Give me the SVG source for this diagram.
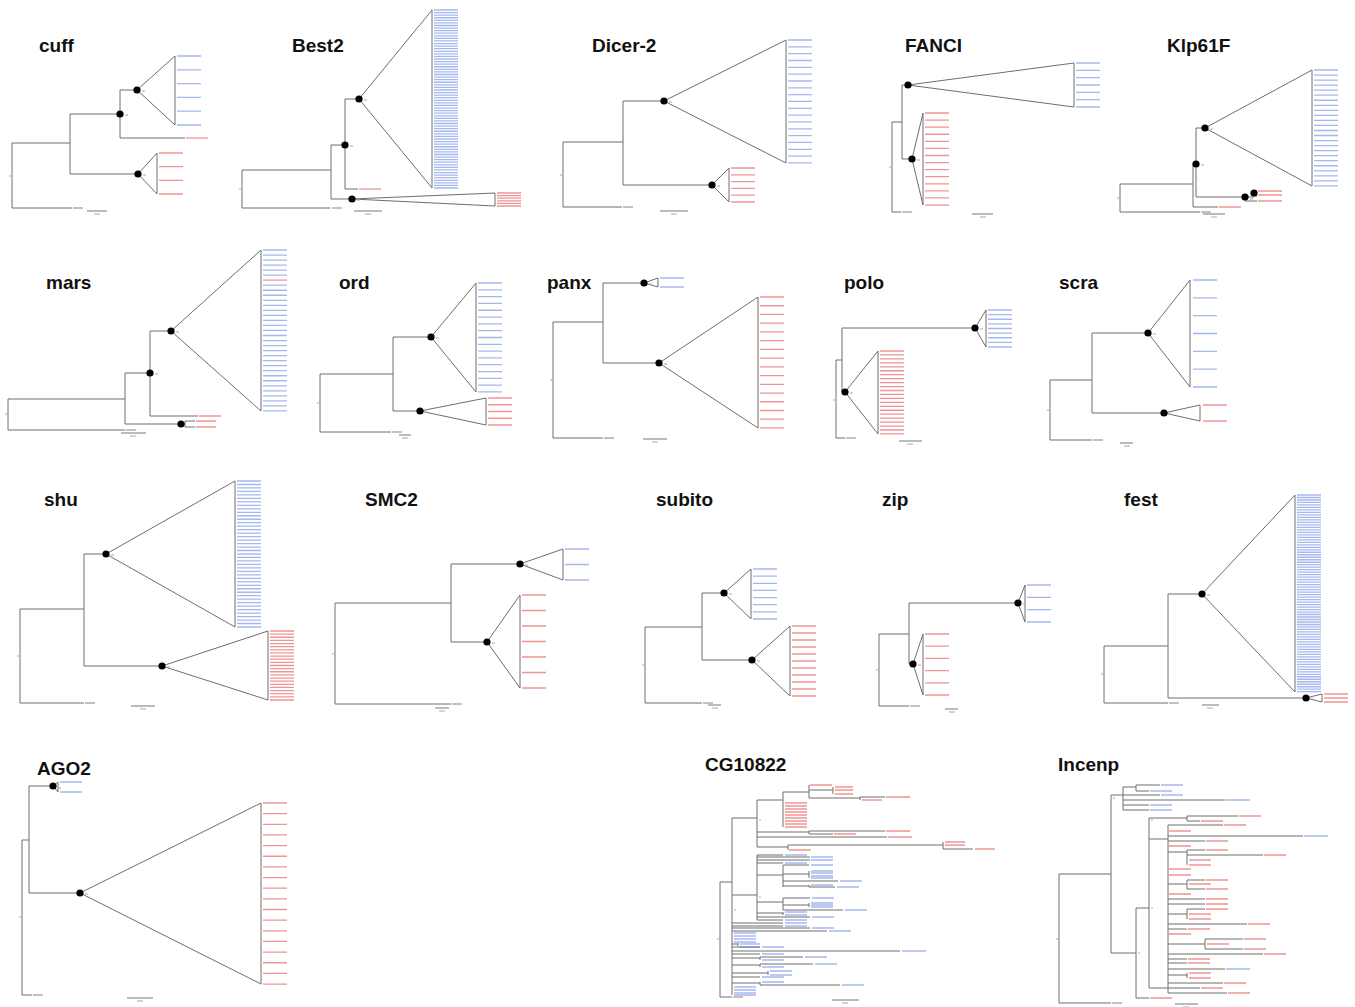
<svg xmlns="http://www.w3.org/2000/svg" width="1355" height="1007" viewBox="0 0 1355 1007">
<style>
.t{font-family:"Liberation Sans",Arial,sans-serif;font-weight:bold;font-size:19px;fill:#111}
.br{fill:none;stroke:#6e6e6e;stroke-width:1}
.nd{fill:#000}
.lb{fill:none;stroke:#4b6fe0;stroke-opacity:.5}
.lr{fill:none;stroke:#e02a2a;stroke-opacity:.5}
.s{stroke-width:1.3}
.lg{fill:none;stroke:#999;stroke-width:1.2}
.sc{fill:none;stroke:#777;stroke-width:1}
.bs{fill:none;stroke:#aaa;stroke-width:1}
</style>
<rect width="1355" height="1007" fill="#fff"/>

<g id="cuff">
<text class="t" x="39" y="52">cuff</text>
<path class="br" d="M12,143V208M12,143H70M12,208H72M70,114V174M70,114H120M70,174H138M120,90V138M120,90H137M120,138H185"/>
<polygon class="br" points="137,90 175,56 175,125"/>
<polygon class="br" points="138,174 157,153 157,194"/>
<circle class="nd" cx="120" cy="114" r="3.6"/><circle class="nd" cx="137" cy="90" r="3.6"/><circle class="nd" cx="138" cy="174" r="3.6"/>
<path class="lb" stroke-width="24" stroke-dasharray="1.3 12.5" d="M189,55.35V125.65"/>
<path class="lr" stroke-width="24" stroke-dasharray="1.3 12.37" d="M171,152.35V194.65"/>
<path class="lr s" d="M186,138h22"/>
<path class="lg" d="M73,208h10"/>
<path class="bs" d="M125,115h3M142,91h3M143,175h3M9,176h2M94,214h6"/>
<path class="sc" d="M87,211H107"/>
</g>

<g id="Best2">
<text class="t" x="292" y="52">Best2</text>
<path class="br" d="M242,170V208M242,170H331M242,208H330M331,145V199M331,145H345M345,99V189M345,99H359M345,189H358M331,199H352"/>
<polygon class="br" points="359,99 432,10 432,188"/>
<polygon class="br" points="352,199 495,193 495,206"/>
<circle class="nd" cx="345" cy="145" r="3.6"/><circle class="nd" cx="359" cy="99" r="3.6"/><circle class="nd" cx="352" cy="199" r="3.6"/>
<path class="lb" stroke-width="24" stroke-dasharray="1.3 1.28" d="M446,9.35V188.65"/>
<path class="lr" stroke-width="24" stroke-dasharray="1.3 1.3" d="M509,192.35V206.65"/>
<path class="lr s" d="M359,189h22"/>
<path class="lg" d="M332,208h10"/>
<path class="bs" d="M350,146h3M364,100h3M357,200h3M239,189h2M365,214h6"/>
<path class="sc" d="M354,211H382"/>
</g>

<g id="Dicer-2">
<text class="t" x="592" y="52">Dicer-2</text>
<path class="br" d="M563,142V207M563,142H623M563,207H622M623,101V185M623,101H664M623,185H712"/>
<polygon class="br" points="664,101 786,40 786,163"/>
<polygon class="br" points="712,185 729,168 729,202"/>
<circle class="nd" cx="664" cy="101" r="3.6"/><circle class="nd" cx="712" cy="185" r="3.6"/>
<path class="lb" stroke-width="24" stroke-dasharray="1.3 5.53" d="M800,39.35V163.65"/>
<path class="lr" stroke-width="24" stroke-dasharray="1.3 5.5" d="M743,167.35V202.65"/>
<path class="lg" d="M623,207h10"/>
<path class="bs" d="M669,102h3M717,186h3M560,175h2M671,214h6"/>
<path class="sc" d="M660,211H688"/>
</g>

<g id="FANCI">
<text class="t" x="905" y="52">FANCI</text>
<path class="br" d="M892,122V212M892,122H902M892,212H901M902,85V159M902,85H908M902,159H912"/>
<polygon class="br" points="908,85 1074,63 1074,107"/>
<polygon class="br" points="912,159 923,113 923,205"/>
<circle class="nd" cx="908" cy="85" r="3.6"/><circle class="nd" cx="912" cy="159" r="3.6"/>
<path class="lb" stroke-width="24" stroke-dasharray="1.3 6.03" d="M1088,62.35V107.65"/>
<path class="lr" stroke-width="24" stroke-dasharray="1.3 5.78" d="M937,112.35V205.65"/>
<path class="lg" d="M902,212h10"/>
<path class="bs" d="M917,160h3M889,167h2M980,217h6"/>
<path class="sc" d="M972,214H993"/>
</g>

<g id="Klp61F">
<text class="t" x="1167" y="52">Klp61F</text>
<path class="br" d="M1120,184V212M1120,184H1193M1120,212H1200M1193,164V207M1193,164H1196M1193,207H1218M1196,128V197M1196,128H1205M1196,197H1245M1245,197V201M1245,201H1257M1245,197H1254M1254,191V196M1254,191H1257M1254,196H1257"/>
<polygon class="br" points="1205,128 1312,70 1312,186"/>
<circle class="nd" cx="1196" cy="164" r="3.6"/><circle class="nd" cx="1205" cy="128" r="3.6"/><circle class="nd" cx="1245" cy="197" r="3.6"/><circle class="nd" cx="1254" cy="193" r="3.6"/>
<path class="lb" stroke-width="24" stroke-dasharray="1.3 3.74" d="M1326,69.35V186.65"/>
<path class="lr s" d="M1258,191h24M1258,195h24M1258,201h24M1219,207h22"/>
<path class="lg" d="M1201,212h10"/>
<path class="bs" d="M1201,165h3M1210,129h3M1250,199h3M1117,198h2M1211,217h6"/>
<path class="sc" d="M1203,214H1225"/>
</g>

<g id="mars">
<text class="t" x="46" y="289">mars</text>
<path class="br" d="M8,399V430M8,399H125M8,430H125M125,373V424M125,373H150M125,424H181M150,331V416M150,331H171M150,416H198M181,424H185M185,421V427M185,421H195M185,427H195"/>
<polygon class="br" points="171,331 261,250 261,411"/>
<circle class="nd" cx="150" cy="373" r="3.6"/><circle class="nd" cx="171" cy="331" r="3.6"/><circle class="nd" cx="181" cy="424" r="3.6"/>
<path class="lb" stroke-width="24" stroke-dasharray="1.3 3.73" d="M275,249.35V275.85M275,284.55V411.65"/>
<path class="lr s" d="M263,280.2h24M199,416h22M196,421h20M196,427h20"/>
<path class="lg" d="M126,430h10"/>
<path class="bs" d="M155,374h3M176,332h3M5,414h2M130,436h6"/>
<path class="sc" d="M121,433H146"/>
</g>

<g id="ord">
<text class="t" x="339" y="289">ord</text>
<path class="br" d="M320,374V432M320,374H393M320,432H391M393,337V411M393,337H431M393,411H420"/>
<polygon class="br" points="431,337 476,283 476,392"/>
<polygon class="br" points="420,411 486,398 486,425"/>
<circle class="nd" cx="431" cy="337" r="3.6"/><circle class="nd" cx="420" cy="411" r="3.6"/>
<path class="lb" stroke-width="24" stroke-dasharray="1.3 5.51" d="M490,282.35V392.65"/>
<path class="lr" stroke-width="24" stroke-dasharray="1.3 5.45" d="M500,397.35V425.65"/>
<path class="lg" d="M392,432h10"/>
<path class="bs" d="M436,338h3M425,412h3M317,403h2M402,438h6"/>
<path class="sc" d="M399,435H411"/>
</g>

<g id="panx">
<text class="t" x="547" y="289">panx</text>
<path class="br" d="M553,322V438M553,322H603M553,438H603M603,283V363M603,283H644M603,363H659"/>
<polygon class="br" points="644,283 658,278 658,287"/>
<polygon class="br" points="659,363 758,297 758,428"/>
<circle class="nd" cx="644" cy="283" r="3.6"/><circle class="nd" cx="659" cy="363" r="3.6"/>
<path class="lb s" d="M660,278h24M660,287h24"/>
<path class="lr" stroke-width="24" stroke-dasharray="1.3 7.43" d="M772,296.35V428.65"/>
<path class="lg" d="M604,438h10"/>
<path class="bs" d="M649,284h3M664,364h3M550,380h2M652,442h6"/>
<path class="sc" d="M643,439H667"/>
</g>

<g id="polo">
<text class="t" x="844" y="289">polo</text>
<path class="br" d="M836,360V438M836,360H842M836,438H845M842,328V392M842,328H975M842,392H845"/>
<polygon class="br" points="975,328 986,310 986,347"/>
<polygon class="br" points="845,392 878,351 878,434"/>
<circle class="nd" cx="975" cy="328" r="3.6"/><circle class="nd" cx="845" cy="392" r="3.6"/>
<path class="lb" stroke-width="24" stroke-dasharray="1.3 3.325" d="M1000,309.35V347.65"/>
<path class="lr" stroke-width="24" stroke-dasharray="1.3 2.65" d="M892,350.35V434.65"/>
<path class="lg" d="M846,438h10"/>
<path class="bs" d="M980,329h3M850,393h3M833,400h2M907,444h6"/>
<path class="sc" d="M899,441H922"/>
</g>

<g id="scra">
<text class="t" x="1059" y="289">scra</text>
<path class="br" d="M1050,380V440M1050,380H1092M1050,440H1092M1092,333V413M1092,333H1148M1092,413H1164"/>
<polygon class="br" points="1148,333 1190,280 1190,387"/>
<polygon class="br" points="1164,413 1200,405 1200,421"/>
<circle class="nd" cx="1148" cy="333" r="3.6"/><circle class="nd" cx="1164" cy="413" r="3.6"/>
<path class="lb" stroke-width="24" stroke-dasharray="1.3 16.53" d="M1205,279.35V387.65"/>
<path class="lr s" d="M1203,405h24M1203,421h24"/>
<path class="lg" d="M1093,440h10"/>
<path class="bs" d="M1153,334h3M1169,414h3M1047,410h2M1124,446h6"/>
<path class="sc" d="M1120,443H1133"/>
</g>

<g id="shu">
<text class="t" x="44" y="506">shu</text>
<path class="br" d="M20,609V703M20,609H84M20,703H84M84,554V666M84,554H106M84,666H162"/>
<polygon class="br" points="106,554 235,481 235,627"/>
<polygon class="br" points="162,666 268,631 268,700"/>
<circle class="nd" cx="106" cy="554" r="3.6"/><circle class="nd" cx="162" cy="666" r="3.6"/>
<path class="lb" stroke-width="24" stroke-dasharray="1.3 2.176" d="M249,480.35V627.65"/>
<path class="lr" stroke-width="24" stroke-dasharray="1.3 1.836" d="M282,630.35V700.65"/>
<path class="lg" d="M85,703h10"/>
<path class="bs" d="M111,555h3M167,667h3M17,656h2M140,709h6"/>
<path class="sc" d="M131,706H155"/>
</g>

<g id="SMC2">
<text class="t" x="365" y="506">SMC2</text>
<path class="br" d="M335,603V704M335,603H451M335,704H451M451,564V642M451,564H520M451,642H487"/>
<polygon class="br" points="520,564 563,549 563,580"/>
<polygon class="br" points="487,642 520,595 520,688"/>
<circle class="nd" cx="520" cy="564" r="3.6"/><circle class="nd" cx="487" cy="642" r="3.6"/>
<path class="lb" stroke-width="24" stroke-dasharray="1.3 14.2" d="M577,548.35V580.65"/>
<path class="lr" stroke-width="24" stroke-dasharray="1.3 14.2" d="M534,594.35V688.65"/>
<path class="lg" d="M452,704h10"/>
<path class="bs" d="M525,565h3M492,643h3M332,654h2M439,711h6"/>
<path class="sc" d="M435,708H449"/>
</g>

<g id="subito">
<text class="t" x="656" y="506">subito</text>
<path class="br" d="M645,627V703M645,627H702M645,703H702M702,593V660M702,593H724M702,660H752"/>
<polygon class="br" points="724,593 751,569 751,619"/>
<polygon class="br" points="752,660 790,626 790,696"/>
<circle class="nd" cx="724" cy="593" r="3.6"/><circle class="nd" cx="752" cy="660" r="3.6"/>
<path class="lb" stroke-width="24" stroke-dasharray="1.3 5.84" d="M765,568.35V619.65"/>
<path class="lr" stroke-width="24" stroke-dasharray="1.3 5.7" d="M804,625.35V696.65"/>
<path class="lg" d="M703,703h10"/>
<path class="bs" d="M729,594h3M757,661h3M642,665h2M712,708h6"/>
<path class="sc" d="M708,705H721"/>
</g>

<g id="zip">
<text class="t" x="882" y="506">zip</text>
<path class="br" d="M879,634V706M879,634H909M879,706H909M909,603V664M909,603H1018M909,664H913"/>
<polygon class="br" points="1018,603 1025,585 1025,622"/>
<polygon class="br" points="913,664 923,634 923,695"/>
<circle class="nd" cx="1018" cy="603" r="3.6"/><circle class="nd" cx="913" cy="664" r="3.6"/>
<path class="lb" stroke-width="24" stroke-dasharray="1.3 11.03" d="M1039,584.35V622.65"/>
<path class="lr" stroke-width="24" stroke-dasharray="1.3 10.9" d="M937,633.35V695.65"/>
<path class="lg" d="M910,706h10"/>
<path class="bs" d="M1023,604h3M918,665h3M876,670h2M949,712h6"/>
<path class="sc" d="M945,709H958"/>
</g>

<g id="fest">
<text class="t" x="1124" y="506">fest</text>
<path class="br" d="M1104,646V703M1104,646H1168M1104,703H1168M1168,594V698M1168,594H1202M1168,698H1306"/>
<polygon class="br" points="1202,594 1295,495 1295,692"/>
<polygon class="br" points="1306,698 1322,694 1322,702"/>
<circle class="nd" cx="1202" cy="594" r="3.6"/><circle class="nd" cx="1306" cy="698" r="3.6"/>
<path class="lb" stroke-width="24" stroke-dasharray="1.3 1.19" d="M1309,494.35V692.65"/>
<path class="lr" stroke-width="24" stroke-dasharray="1.3 2.7" d="M1336,693.35V702.65"/>
<path class="lg" d="M1169,703h10"/>
<path class="bs" d="M1207,595h3M1311,699h3M1101,674h2M1207,708h6"/>
<path class="sc" d="M1202,705H1219"/>
</g>

<g id="AGO2">
<text class="t" x="37" y="775">AGO2</text>
<path class="br" d="M22,840V995M22,840H29M22,995H32M29,786V893M29,786H53M29,893H80"/>
<polygon class="br" points="53,786 58,782 58,792"/>
<polygon class="br" points="80,893 261,803 261,984"/>
<circle class="nd" cx="53" cy="786" r="3.6"/><circle class="nd" cx="80" cy="893" r="3.6"/>
<path class="lb s" d="M60,782h22M60,792h22"/>
<path class="lr" stroke-width="24" stroke-dasharray="1.3 9.35" d="M275,802.35V984.65"/>
<path class="lg" d="M33,995h10"/>
<path class="bs" d="M58,788h3M85,894h3M19,917h2M137,1001h6"/>
<path class="sc" d="M127,998H153"/>
</g>

<g id="CG10822">
<text class="t" x="705" y="771">CG10822</text>
<path class="br" d="M720,882V997M720,882H732M720,997H732M732,818V995M732,818H757M757,800V847M757,800H783M783,792V827M783,792H809M809,785V798M809,790H833M833,787V794M809,798H860M860,797V800M860,797H885M757,832H809M809,831V834M809,831H885M809,834H833M757,837H887M757,847H788M788,845V850M788,845H943M943,842V849M943,849H973M732,895H757M757,855V920M757,855H783M757,857H810M757,860H810M757,863H783M757,875H783M783,865V887M783,865H809M783,874H809M809,871V878M783,881H838M783,886H809M809,885V887M809,887H835M757,902H783M783,898V910M783,898H810M783,905H809M809,903V907M783,910H843M757,913H783M783,912V915M757,917H810M757,920H783M732,923H783M732,926H783M732,928H810M732,931H827M732,944H738M738,943V946M732,947H760M732,951H900M732,954H760M732,958H760M760,957V960M760,957H803M732,965H760M760,964V967M760,964H813M732,973H768M768,971V975M732,977H760M732,983H760M760,982V985M760,985H840"/>
<path class="lr s" d="M785,803h22M785,806h22M785,809h22M785,812h22M785,815h22M785,818h22M785,821h22M785,824h22M785,827h22M810,785h22M835,787h18M835,790h18M835,794h18M862,800h20M886,797h24M886,831h24M834,834h22M888,837h24M789,850h22M945,842h20M945,845h20M975,849h20"/>
<path class="lb s" d="M785,855h22M811,857h22M811,860h22M785,863h22M811,865h22M811,871h22M811,873h22M811,876h22M811,878h22M840,881h22M811,885h22M837,887h22M812,898h22M811,903h22M811,905h22M811,907h22M845,910h22M785,912h22M785,915h22M812,917h22M785,920h22M785,923h22M785,926h22M812,928h22M829,931h22M734,933h22M734,936h22M734,939h22M734,942h22M740,944h20M740,947h20M762,947h22M902,951h24M762,954h22M805,957h22M762,960h22M815,964h22M762,967h22M770,971h22M770,975h22M762,977h22M762,982h22M842,985h22M734,987h22M734,990h22M734,993h22M734,995h22"/>
<path class="lg" d="M733,997h10"/>
<path class="bs" d="M759,820h2M759,897h2M734,910h2M717,939h2M842,1003h6"/>
<path class="sc" d="M832,1000H859"/>
</g>

<g id="Incenp">
<text class="t" x="1058" y="771">Incenp</text>
<path class="br" d="M1059,874V1003M1059,874H1111M1059,1003H1111M1111,795V953M1111,795H1123M1123,787V810M1123,787H1136M1136,785V791M1136,785H1160M1136,791H1149M1123,795H1160M1123,800H1225M1123,805H1149M1123,810H1149M1111,953H1136M1136,908V998M1136,998H1149M1136,908H1149M1149,818V988M1149,818H1187M1187,816V821M1187,816H1238M1187,821H1200M1149,839H1168M1168,825V993M1168,825H1223M1168,836H1303M1168,841H1205M1168,852H1187M1187,850V865M1187,850H1205M1187,855H1263M1168,884H1187M1187,880V889M1187,880H1205M1187,889H1205M1168,899H1205M1168,904H1205M1168,914H1187M1187,909V919M1187,909H1205M1168,924H1247M1168,929H1187M1168,944H1205M1205,939V949M1205,939H1243M1205,949H1243M1168,954H1263M1168,959H1187M1168,963H1187M1168,969H1225M1168,975H1187M1187,973V978M1149,988H1168M1168,983H1223M1168,988H1200M1168,993H1227"/>
<path class="lb s" d="M1161,785h22M1150,791h22M1161,795h22M1226,800h24M1150,805h22M1150,810h22M1304,836h24M1226,969h24"/>
<path class="lr s" d="M1150,998h22M1239,816h22M1201,821h22M1224,825h22M1169,831h22M1206,841h22M1169,846h22M1206,850h22M1264,855h22M1189,860h22M1189,865h22M1169,869h22M1169,875h22M1206,880h22M1189,884h22M1206,889h22M1169,894h22M1206,899h22M1206,904h22M1206,909h22M1189,914h22M1189,919h22M1248,924h22M1188,929h22M1169,934h22M1244,939h22M1207,944h22M1244,949h22M1264,954h22M1188,959h22M1188,963h22M1189,973h22M1189,978h22M1224,983h22M1201,988h22M1228,993h22"/>
<path class="lg" d="M1112,1003h10"/>
<path class="bs" d="M1113,798h2M1151,820h2M1138,953h2M1151,908h2M1056,939h2M1183,1007h6"/>
<path class="sc" d="M1175,1004H1198"/>
</g>
</svg>
